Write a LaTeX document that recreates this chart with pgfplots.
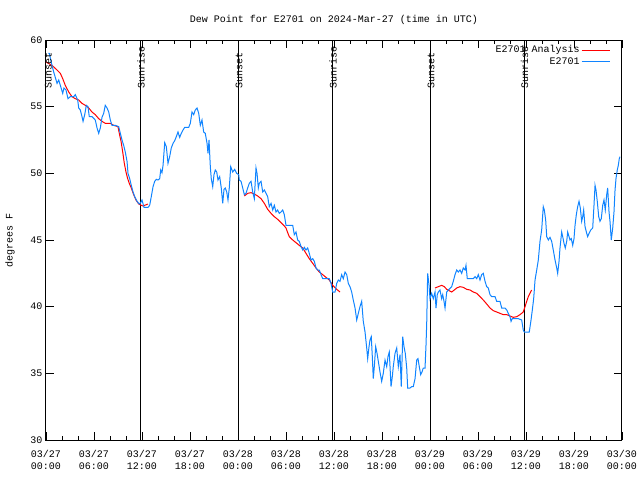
\documentclass[border=0pt]{standalone}
\usepackage{pgfplots}
\pgfplotsset{compat=1.18}
\usepackage{fontspec}
\setmainfont{Liberation Mono}
\setmonofont{Liberation Mono}
\definecolor{obsblue}{RGB}{16,132,255}
\begin{document}
\begin{tikzpicture}[font=\fontsize{10}{12}\selectfont]
\begin{axis}[
 scale only axis, width=576pt, height=400pt,
 at={(0,0)}, anchor=south west,
 xmin=0, xmax=72, ymin=30, ymax=60,
 clip=false,
 xtick={0,6,...,72},
 xticklabels={03/27\\00:00,03/27\\06:00,03/27\\12:00,03/27\\18:00,03/28\\00:00,03/28\\06:00,03/28\\12:00,03/28\\18:00,03/29\\00:00,03/29\\06:00,03/29\\12:00,03/29\\18:00,03/30\\00:00},
 xticklabel style={align=center, font=\fontsize{10}{12}\selectfont, yshift=-7pt},
 yticklabel style={font=\fontsize{10}{12}\selectfont},
 minor x tick num=2,
 ytick={30,35,...,60},
 tick pos=both,
 xticklabel pos=lower, yticklabel pos=left,
 major tick length=8pt, minor tick length=4pt,
 tick style={black, line width=0.8pt},
 axis line style={line width=1pt},
 /pgf/number format/assume math mode=true,
 legend plot pos=right,
 legend cell align=right,
 legend image code/.code={\draw[#1] (6pt,0pt) -- (34pt,0pt);},
 legend style={draw=none, fill=none, at={(0.985,0.995)}, anchor=north east,
   font=\fontsize{10}{12}\selectfont, row sep=0pt,
   nodes={inner sep=1.5pt}},
]
% sunrise/sunset lines
\addplot[black, line width=1pt, forget plot] coordinates {(0,30) (0,60)};
\addplot[black, line width=1pt, forget plot] coordinates {(11.875,30) (11.875,60)};
\addplot[black, line width=1pt, forget plot] coordinates {(24.125,30) (24.125,60)};
\addplot[black, line width=1pt, forget plot] coordinates {(35.875,30) (35.875,60)};
\addplot[black, line width=1pt, forget plot] coordinates {(48.125,30) (48.125,60)};
\addplot[black, line width=1pt, forget plot] coordinates {(59.81,30) (59.81,60)};

% analysis
\addplot[red, line width=1pt, unbounded coords=jump] coordinates {
(0,58.35) (0.75,58.1) (1.38,57.75) (1.79,57.5) (2.09,57.1) (2.41,56.6) (2.84,56.1)
(3.25,55.75) (3.66,55.6) (4.09,55.5) (4.5,55.25) (4.91,55.1) (5.34,54.9) (5.75,54.6)
(6.16,54.4) (6.59,54.1) (7.0,53.9) (7.41,53.75) (8.04,53.75) (8.46,53.6) (9.0,53.5)
(9.16,53.0) (9.38,52.4) (9.59,51.6) (9.79,50.75) (10.0,50.1) (10.21,49.6) (10.41,49.25)
(10.66,48.9) (10.96,48.4) (11.25,48.0) (11.59,47.7) (11.91,47.6) (12.13,47.55) (12.75,47.7)
(13,nan)
(24.79,48.3) (25.21,48.5) (25.63,48.55) (26.04,48.45) (26.46,48.3) (26.88,48.1) (27.29,47.75)
(27.71,47.3) (28.13,47.0) (28.54,46.75) (28.96,46.55) (29.38,46.3) (29.79,46.05) (30.0,45.9)
(30.21,45.55) (30.41,45.25) (30.84,45.0) (31.25,44.8) (31.66,44.6) (32.09,44.4) (32.5,44.0)
(32.91,43.6) (33.34,43.25) (33.75,42.9) (34.16,42.6) (34.59,42.4) (35.0,42.2) (35.41,42.0)
(35.84,41.6) (36.34,41.3) (36.75,41.1)
(37,nan)
(48.63,41.4) (49.04,41.5) (49.46,41.6) (49.79,41.5) (50.09,41.3) (50.38,41.2) (50.71,41.1)
(51.04,41.25) (51.34,41.4) (51.75,41.5) (52.16,41.45) (52.59,41.3) (53.0,41.25) (53.41,41.1)
(53.84,41.0) (54.25,40.75) (54.66,40.5) (55.09,40.2) (55.5,39.9) (55.91,39.7) (56.34,39.6)
(56.75,39.5) (57.16,39.4) (57.59,39.4) (58.0,39.3) (58.41,39.2) (58.84,39.25) (59.25,39.4)
(59.66,39.6) (59.88,40.0) (60.09,40.4) (60.29,40.75) (60.71,41.25)
};
\addlegendentry{E2701 Analysis}

% observations
\addplot[obsblue, line width=1pt] coordinates {
(0.3,59.0) (0.41,59.0) (0.75,58.1) (0.96,57.6) (1.16,57.2) (1.38,56.75) (1.59,57.0) (1.79,56.6)
(2.09,56.0) (2.25,56.4) (2.5,56.25) (2.75,55.6) (3.04,55.75) (3.46,55.75) (3.66,55.9)
(3.96,55.5) (4.09,54.9) (4.29,54.75) (4.5,54.25) (4.63,53.9) (4.84,54.4) (5.04,55.1)
(5.25,55.0) (5.41,54.25) (5.75,54.25) (6.16,54.0) (6.38,53.4) (6.59,53.0) (6.79,53.4)
(7.0,54.2) (7.21,54.5) (7.41,55.1) (7.63,54.9) (7.84,54.6) (8.04,54.0) (8.25,53.6)
(8.66,53.6) (9.09,53.5) (9.29,53.0) (9.5,52.5) (9.71,52.1) (9.91,51.6) (10.13,50.9)
(10.25,50.0) (10.46,49.6) (10.66,49.1) (10.88,48.6) (11.09,48.25) (11.38,47.9) (11.66,47.7)
(11.84,47.8) (12.0,48.0) (12.25,47.45) (12.75,47.45) (12.96,47.6) (13.16,48.25) (13.38,49.0)
(13.59,49.4) (13.79,49.55) (14.0,49.5) (14.21,49.6) (14.34,50.25) (14.5,50.05) (14.63,50.6)
(14.84,52.3) (15.04,52.0) (15.25,50.75) (15.46,51.25) (15.66,51.9) (15.88,52.25) (16.09,52.45)
(16.29,52.75) (16.5,53.1) (16.71,52.7) (16.91,53.0) (17.13,53.25) (17.34,53.45) (17.84,53.45)
(18.04,53.75) (18.25,54.6) (18.46,54.4) (18.66,54.75) (18.88,54.9) (19.09,54.5) (19.29,53.6)
(19.5,54.0) (19.71,53.1) (19.91,53.0) (20.13,52.25) (20.25,51.5) (20.38,52.5) (20.54,50.5)
(20.66,49.6) (20.84,49.0) (21.0,49.9) (21.16,50.25) (21.34,50.1) (21.5,49.5) (21.71,49.75)
(21.91,48.9) (22.09,47.75) (22.25,48.8) (22.41,48.9) (22.59,48.6) (22.75,48.0) (22.91,48.9)
(23.09,50.5) (23.34,50.1) (23.59,50.3) (23.84,50.0) (24.09,49.9) (24.16,49.5) (24.38,49.4)
(24.59,48.9) (24.79,48.4) (25.0,48.5) (25.21,48.9) (25.41,49.25) (25.63,49.4) (25.84,48.6)
(26.04,48.1) (26.25,50.4) (26.38,50.0) (26.54,48.9) (26.66,49.25) (26.88,49.4) (27.09,48.6)
(27.29,48.75) (27.5,48.5) (27.71,48.25) (27.91,47.5) (28.13,47.75) (28.34,47.25) (28.54,47.6)
(28.75,47.1) (28.96,47.25) (29.16,47.0) (29.38,47.1) (29.59,47.25) (29.79,46.9) (30.0,46.1)
(30.41,46.1) (30.84,46.1) (31.04,45.4) (31.25,45.6) (31.46,45.0) (31.66,44.9) (31.88,44.5)
(32.09,44.25) (32.29,44.45) (32.5,44.25) (32.71,44.4) (32.91,44.0) (33.13,43.5) (33.34,43.6)
(33.54,43.4) (33.75,42.9) (33.96,42.75) (34.16,42.75) (34.38,42.4) (34.59,42.1) (35.0,42.1)
(35.41,42.1) (35.63,41.75) (35.84,41.1) (36.13,41.1) (36.34,41.75) (36.54,42.0) (36.75,41.9)
(36.96,42.4) (37.16,42.1) (37.38,42.6) (37.59,42.4) (37.79,41.75) (38.0,41.5) (38.21,41.1)
(38.41,40.5) (38.63,39.9) (38.84,39.0) (39.04,39.5) (39.25,40.0) (39.46,40.4) (39.66,38.9)
(39.88,38.1) (40.09,36.9) (40.21,36.1) (40.38,37.0) (40.5,37.5) (40.66,37.75) (40.79,36.25)
(40.91,34.6) (41.04,35.5) (41.21,37.0) (41.38,36.5) (41.54,35.9) (41.75,35.1) (41.96,34.4)
(42.16,35.0) (42.38,36.0) (42.59,35.5) (42.75,36.25) (42.91,36.6) (43.13,34.0) (43.29,34.75)
(43.41,35.5) (43.63,36.5) (43.84,36.9) (44.04,35.5) (44.25,36.4) (44.41,34.0) (44.59,37.75)
(44.75,37.0) (44.91,36.5) (45.09,35.4) (45.21,33.9) (45.5,33.9) (45.71,34.0) (45.91,34.0)
(46.13,34.6) (46.34,36.0) (46.5,36.1) (46.66,35.5) (46.84,34.9) (47.0,35.1) (47.16,35.4)
(47.38,35.4) (47.5,37.1) (47.59,38.75) (47.71,42.5) (47.88,41.6) (48.0,40.6) (48.21,41.0)
(48.41,40.6) (48.63,41.1) (48.75,39.9) (48.91,40.9) (49.04,41.1) (49.25,41.25) (49.46,40.6)
(49.59,40.9) (49.75,40.4) (49.88,39.9) (50.09,41.1) (50.29,41.25) (50.71,41.5) (50.91,41.9)
(51.13,42.4) (51.34,42.75) (51.54,42.6) (51.75,42.75) (51.96,42.5) (52.16,42.9) (52.38,42.75)
(52.5,43.1) (52.66,42.1) (53.0,42.1) (53.41,42.1) (53.63,42.25) (53.84,42.1) (54.04,42.4)
(54.25,42.0) (54.46,42.4) (54.66,42.5) (54.88,41.9) (55.09,41.5) (55.29,41.4) (55.5,40.9)
(55.71,40.75) (56.13,40.75) (56.34,40.4) (56.75,40.4) (56.96,39.9) (57.38,39.9) (57.59,39.75)
(57.79,39.5) (58.0,39.25) (58.13,38.9) (58.29,39.1) (59.04,39.1) (59.46,39.0) (59.66,38.25)
(59.79,38.1) (60.41,38.1) (60.63,39.0) (60.79,39.75) (60.96,40.6) (61.13,42.0) (61.34,42.75)
(61.54,43.5) (61.75,44.9) (61.96,45.75) (62.16,47.5) (62.29,47.25) (62.46,46.5) (62.59,45.25)
(62.79,45.0) (63.0,45.2) (63.21,44.9) (63.41,44.25) (63.63,43.5) (63.84,42.9) (63.96,42.5)
(64.13,43.4) (64.25,44.4) (64.46,45.6) (64.59,45.25) (64.75,44.75) (64.91,44.4) (65.09,44.9)
(65.21,45.6) (65.38,45.25) (65.5,45.0) (65.66,45.1) (65.84,44.6) (66.0,45.1) (66.13,46.1)
(66.29,46.9) (66.46,47.5) (66.63,47.9) (66.79,47.4) (66.96,46.4) (67.09,46.75) (67.21,47.25)
(67.38,46.0) (67.59,45.5) (67.71,45.25) (67.88,45.5) (68.09,45.75) (68.34,45.9) (68.5,47.6)
(68.63,49.1) (68.75,48.75) (68.91,47.9) (69.09,46.75) (69.25,46.4) (69.41,46.6) (69.59,47.6)
(69.75,48.0) (69.91,47.25) (70.09,48.4) (70.21,48.9) (70.38,47.1) (70.5,46.4) (70.66,45.0)
(70.84,45.9) (71.0,47.1) (71.13,48.75) (71.25,49.6) (71.41,50.25) (71.54,50.6) (71.66,51.1)
(71.75,51.25)
};
\addlegendentry{E2701}

\node[rotate=90, anchor=west] at (axis cs:0.3,56.1) {Sunset};
\node[rotate=90, anchor=west] at (axis cs:11.875,56.1) {Sunrise};
\node[rotate=90, anchor=west] at (axis cs:24.125,56.1) {Sunset};
\node[rotate=90, anchor=west] at (axis cs:35.875,56.1) {Sunrise};
\node[rotate=90, anchor=west] at (axis cs:48.125,56.1) {Sunset};
\node[rotate=90, anchor=west] at (axis cs:59.81,56.1) {Sunrise};
\end{axis}
\node[anchor=base] at (288pt,417.5pt) {Dew Point for E2701 on 2024-Mar-27 (time in UTC)};
\node[rotate=90, anchor=center] at (-36pt,200pt) {degrees F};
\pgfresetboundingbox
\path[use as bounding box] (-46pt,-40pt) rectangle (594pt,440pt);
\end{tikzpicture}
\end{document}
